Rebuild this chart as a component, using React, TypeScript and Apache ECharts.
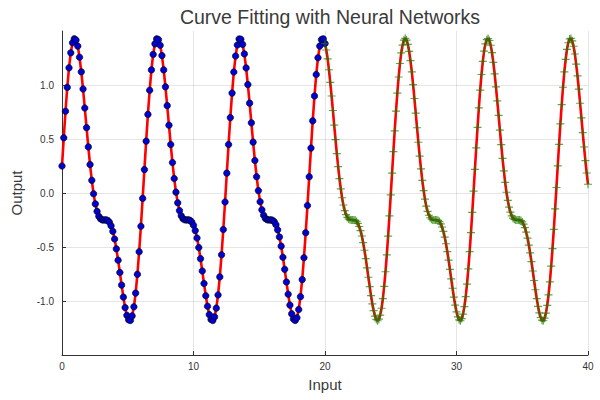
import React, { useEffect, useRef } from 'react';
import * as echarts from 'echarts';

const TITLE = 'Curve Fitting with Neural Networks';
const X_NAME = 'Input';
const Y_NAME = 'Output';
const Y_TICKS = [-1, -0.5, 0, 0.5, 1];

// training samples (blue dots): x from 0 to 20, evenly spaced
const TRAIN_X_START = 0;
const TRAIN_X_STEP = 20 / 150;
const TRAIN_Y = [
  0.250, 0.511, 0.757, 0.978, 1.159, 1.298, 1.391, 1.428, 1.416, 1.360,
  1.257, 1.122, 0.963, 0.787, 0.605, 0.427, 0.263, 0.117, -0.007, -0.101,
  -0.170, -0.216, -0.239, -0.249, -0.250, -0.249, -0.254, -0.270, -0.304, -0.355,
  -0.426, -0.517, -0.622, -0.736, -0.853, -0.964, -1.061, -1.133, -1.174, -1.180,
  -1.138, -1.054, -0.927, -0.753, -0.544, -0.308, -0.050, 0.217, 0.480, 0.728,
  0.951, 1.140, 1.283, 1.381, 1.427, 1.420, 1.368, 1.272, 1.140, 0.983,
  0.809, 0.628, 0.449, 0.282, 0.134, 0.008, -0.091, -0.163, -0.211, -0.238,
  -0.248, -0.250, -0.249, -0.253, -0.268, -0.299, -0.348, -0.417, -0.505, -0.608,
  -0.722, -0.838, -0.951, -1.049, -1.126, -1.171, -1.180, -1.147, -1.066, -0.944,
  -0.777, -0.572, -0.338, -0.083, 0.184, 0.449, 0.698, 0.925, 1.120, 1.268,
  1.370, 1.426, 1.424, 1.376, 1.288, 1.158, 1.004, 0.832, 0.650, 0.471,
  0.301, 0.151, 0.022, -0.081, -0.156, -0.206, -0.236, -0.247, -0.250, -0.249,
  -0.252, -0.265, -0.293, -0.341, -0.407, -0.492, -0.595, -0.707, -0.824, -0.937,
  -1.038, -1.119, -1.167, -1.180, -1.155, -1.079, -0.960, -0.802, -0.599, -0.368,
  -0.116, 0.150, 0.416, 0.668, 0.898, 1.097, 1.252, 1.360, 1.420, 1.427,
  1.384,
];

// test samples (green plus markers): x from 20 to 40, evenly spaced
const TEST_X_START = 20;
const TEST_X_STEP = 0.1;
const TEST_Y = [
  1.384, 1.324, 1.242, 1.141, 1.025, 0.898, 0.764, 0.628, 0.494, 0.364,
  0.244, 0.134, 0.038, -0.044, -0.111, -0.163, -0.201, -0.226, -0.241, -0.248,
  -0.250, -0.250, -0.250, -0.253, -0.263, -0.282, -0.310, -0.348, -0.398, -0.459,
  -0.530, -0.608, -0.693, -0.780, -0.867, -0.951, -1.026, -1.090, -1.140, -1.171,
  -1.183, -1.168, -1.130, -1.067, -0.978, -0.865, -0.729, -0.572, -0.399, -0.212,
  -0.017, 0.184, 0.383, 0.576, 0.758, 0.925, 1.074, 1.199, 1.298, 1.370,
  1.415, 1.432, 1.416, 1.376, 1.312, 1.225, 1.122, 1.003, 0.875, 0.740,
  0.604, 0.470, 0.342, 0.224, 0.116, 0.022, -0.057, -0.121, -0.171, -0.206,
  -0.229, -0.243, -0.249, -0.250, -0.250, -0.250, -0.254, -0.265, -0.285, -0.315,
  -0.356, -0.408, -0.470, -0.542, -0.622, -0.708, -0.795, -0.882, -0.965, -1.038,
  -1.100, -1.147, -1.174, -1.183, -1.163, -1.121, -1.053, -0.960, -0.843, -0.703,
  -0.543, -0.367, -0.179, 0.018, 0.218, 0.417, 0.608, 0.789, 0.952, 1.097,
  1.218, 1.314, 1.381, 1.420, 1.430, 1.412, 1.368, 1.299, 1.210, 1.103,
  0.983, 0.853, 0.718, 0.582, 0.448, 0.321, 0.204, 0.099, 0.007, -0.069,
  -0.131, -0.178, -0.211, -0.233, -0.244, -0.249, -0.250, -0.249, -0.250, -0.255,
  -0.268, -0.289, -0.321, -0.363, -0.417, -0.482, -0.555, -0.636, -0.722, -0.810,
  -0.896, -0.978, -1.050, -1.110, -1.153, -1.178, -1.183, -1.159, -1.113, -1.040,
  -0.943, -0.822, -0.678, -0.515, -0.337, -0.147, 0.051, 0.252, 0.450, 0.640,
  0.818, 0.979, 1.121, 1.238, 1.329, 1.391, 1.426, 1.431, 1.409, 1.359,
  1.287, 1.194, 1.085, 0.962, 0.831, 0.695, 0.559, 0.426, 0.300, 0.185,
  0.081,
];

const PLUS =
  'path://M4.25,0H5.75V4.25H10V5.75H5.75V10H4.25V5.75H0V4.25H4.25Z';

export default function App() {
  const ref = useRef<HTMLDivElement>(null);

  useEffect(() => {
    if (!ref.current) return;
    const chart = echarts.init(ref.current, null, { renderer: 'svg' });
    const train = TRAIN_Y.map((y, i) => [TRAIN_X_START + i * TRAIN_X_STEP, y]);
    const test = TEST_Y.map((y, i) => [TEST_X_START + i * TEST_X_STEP, y]);
    const fit = train.slice(0, -1).concat(test);
    const font = 'Liberation Sans, Arial, Helvetica, sans-serif';

    chart.setOption({
      animation: false,
      backgroundColor: '#ffffff',
      textStyle: { fontFamily: font },
      title: {
        text: TITLE,
        left: 325,
        textAlign: 'center',
        top: 2,
        textStyle: { fontSize: 19.5, fontWeight: 'normal', color: '#3a3a3a', fontFamily: font },
      },
      grid: { left: 62, right: 12, top: 31, bottom: 45 },
      xAxis: {
        type: 'value',
        min: 0,
        max: 40,
        interval: 10,
        name: X_NAME,
        nameLocation: 'middle',
        nameGap: 22,
        nameTextStyle: { fontSize: 15, color: '#3a3a3a', fontFamily: font },
        axisLine: { show: true, onZero: false, lineStyle: { color: '#333', width: 1 } },
        axisTick: { show: true, inside: true, length: 4, lineStyle: { color: '#333' } },
        axisLabel: { fontSize: 10, color: '#333', margin: 6, fontFamily: font },
        splitLine: { show: true, lineStyle: { color: 'rgba(0,0,0,0.1)', width: 1 } },
      },
      yAxis: {
        type: 'value',
        min: -1.5,
        max: 1.5,
        interval: 0.5,
        name: Y_NAME,
        nameLocation: 'middle',
        nameGap: 38,
        nameTextStyle: { fontSize: 15, color: '#3a3a3a', fontFamily: font },
        axisLine: { show: true, onZero: false, lineStyle: { color: '#333', width: 1 } },
        axisTick: { show: true, inside: true, length: 4, lineStyle: { color: '#333' }, customValues: Y_TICKS },
        axisLabel: {
          fontSize: 10,
          color: '#333',
          margin: 8,
          fontFamily: font,
          customValues: Y_TICKS,
          formatter: (v: number) => (Math.abs(v) > 1.4 ? '' : v.toFixed(1)),
        },
        splitLine: { show: false },
      },
      series: [
        {
          type: 'line',
          data: [],
          silent: true,
          z: 1,
          markLine: {
            silent: true,
            symbol: 'none',
            label: { show: false },
            lineStyle: { color: 'rgba(0,0,0,0.1)', type: 'solid', width: 1 },
            data: Y_TICKS.map((v) => ({ yAxis: v })),
          },
        },
        {
          type: 'line',
          data: fit,
          symbol: 'none',
          showSymbol: false,
          lineStyle: { color: '#ff0000', width: 2.6 },
          z: 2,
        },
        {
          type: 'scatter',
          data: train,
          symbol: 'circle',
          symbolSize: 6.5,
          itemStyle: { color: '#0000d0', borderColor: '#000', borderWidth: 0.6, opacity: 1 },
          z: 3,
        },
        {
          type: 'scatter',
          data: test,
          symbol: PLUS,
          symbolSize: 8,
          itemStyle: { color: '#1f7a00', opacity: 0.7 },
          z: 4,
        },
      ],
    });

    return () => chart.dispose();
  }, []);

  return (
    <div
      ref={ref}
      style={{ position: 'fixed', left: 0, top: 0, width: 600, height: 400 }}
    />
  );
}
